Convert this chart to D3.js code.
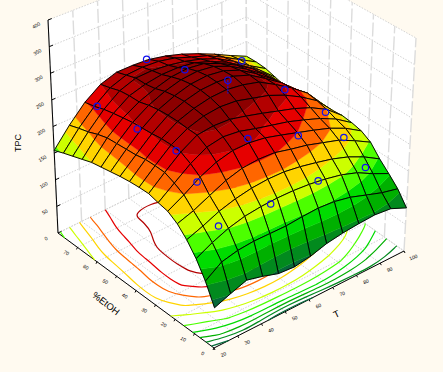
<!DOCTYPE html>
<html>
<head>
<meta charset="utf-8">
<script src="https://cdn.jsdelivr.net/npm/d3@7"></script>
<style>
  html, body { margin: 0; padding: 0; background: #fffaf0; overflow: hidden; }
  text { font-family: "Liberation Sans", Arial, sans-serif; fill: #000; }
</style>
</head>
<body>
<div class="chart"></div>
<script>
// tick labels
const tempTicks = [20, 30, 40, 50, 60, 70, 80, 90, 100];
const etohTicks = [70, 60, 50, 40, 30, 20, 10, 0];
const tpcTicks = [0, 50, 100, 150, 200, 250, 300, 350, 400];

// colour bands of the surface and the floor contours
const tpcLevels = [80, 100, 120, 140, 160, 180, 200, 220, 240, 260];
const bandColors = ["#06693a", "#028a1e", "#00b000", "#00dc00", "#4cff00", "#ccff00", "#ffd400", "#ff6600", "#e60000", "#b30000", "#8c0000"];

// TPC, one row per %EtOH step (80 -> 0), 13 temperatures (20 -> 100)
const tpcGrid = [
  [155, 189, 219, 240, 250, 250, 248, 241, 231, 218, 203, 186, 170],
  [162, 195, 223, 245, 256, 258, 256, 249, 237, 226, 209, 190, 171],
  [168, 200, 229, 251, 262, 263, 260, 254, 245, 232, 213, 190, 170],
  [174, 207, 233, 253, 262, 267, 267, 263, 252, 237, 216, 194, 165],
  [180, 212, 236, 253, 265, 274, 277, 273, 260, 243, 222, 195, 160],
  [183, 213, 239, 258, 271, 280, 283, 279, 266, 247, 224, 196, 161],
  [186, 214, 240, 261, 274, 283, 286, 282, 270, 250, 226, 197, 163],
  [189, 215, 241, 262, 275, 283, 285, 283, 272, 252, 230, 202, 167],
  [191, 218, 243, 262, 273, 280, 282, 278, 270, 252, 232, 208, 172],
  [192, 218, 243, 260, 270, 274, 272, 264, 256, 243, 226, 205, 172],
  [192, 217, 241, 259, 263, 262, 255, 247, 238, 229, 217, 200, 174],
  [187, 209, 231, 248, 254, 251, 243, 236, 229, 219, 208, 193, 172],
  [183, 199, 218, 232, 240, 241, 237, 229, 220, 211, 201, 187, 168],
  [172, 182, 196, 210, 219, 222, 221, 214, 208, 199, 190, 175, 158],
  [155, 166, 179, 188, 194, 197, 197, 193, 187, 180, 170, 156, 138],
  [133, 148, 160, 168, 172, 174, 174, 172, 168, 162, 152, 136, 122],
  [105, 125, 132, 135, 135, 135, 138, 140, 138, 132, 122, 112, 105],
  [70, 81, 91, 84, 75, 73, 78, 87, 92, 95, 97, 94, 81]
];

// measured points
const pointT = [59, 59.2, 59.2, 56, 55, 35, 32.8, 36, 34.5, 33.4, 98, 97, 97, 92.5, 93, 75.5, 70.5];
const pointEtOH = [80, 61.6, 40.8, 27.2, 14.4, 76, 53.6, 38.4, 26.4, 14.4, 80, 57.6, 37.6, 23.2, 12.8, 25.6, 9.6];
const pointTPC = [250, 275, 305, 235, 148, 218, 235, 225, 200, 152, 165, 168, 175, 172, 140, 205, 170];

const width = 443,
  height = 372;

let svg = d3
  .select(".chart")
  .append("svg")
  .attr("width", width)
  .attr("height", height)
  .style("display", "block");

// SCALES
// every axis maps to 0..1 inside the box, the box corners do the rest
let x = d3.scaleLinear().domain([20, 100]).range([0, 1]);
let y = d3.scaleLinear().domain([80, 0]).range([0, 1]);
let z = d3.scaleLinear().domain([0, 400]).range([0, 1]);

const gridT = d3.range(13).map((i) => 20 + (i * 80) / 12);
const gridE = d3.range(18).map((j) => 80 - (j * 80) / 17);

// box corners: left, front, right, back, floor and top
const floorBox = { l: [58, 233], f: [214, 348], r: [404, 251], b: [247, 140] };
const topBox = { l: [48, 20], f: [217, 118], r: [416, 38], b: [246, -57] };

function corner(box, a, b, k) {
  let near = box.l[k] * (1 - b) + box.f[k] * b;
  let far = box.b[k] * (1 - b) + box.r[k] * b;
  return near * (1 - a) + far * a;
}

function project(t, e, v) {
  let a = x(t),
    b = y(e),
    c = z(v);
  return [
    corner(floorBox, a, b, 0) * (1 - c) + corner(topBox, a, b, 0) * c,
    corner(floorBox, a, b, 1) * (1 - c) + corner(topBox, a, b, 1) * c
  ];
}

const line = d3.line();
const closed = d3.line().curve(d3.curveLinearClosed);
const smooth = d3.line().curve(d3.curveBasis);

// WALLS AND FLOOR
const T0 = 20,
  T1 = 100,
  E0 = 80,
  E1 = 0,
  Z0 = 0,
  Z1 = 400;

svg.append("path").attr("fill", "#fff").attr("d", closed([project(T0, E0, Z0), project(T1, E0, Z0), project(T1, E0, Z1), project(T0, E0, Z1)]));
svg.append("path").attr("fill", "#fff").attr("d", closed([project(T1, E0, Z0), project(T1, E1, Z0), project(T1, E1, Z1), project(T1, E0, Z1)]));
svg.append("path").attr("fill", "#fff").attr("d", closed([project(T0, E0, Z0), project(T0, E1, Z0), project(T1, E1, Z0), project(T1, E0, Z0)]));

const wallE = [80].concat(etohTicks);
const dotted = svg.append("g").attr("fill", "none").attr("stroke", "#d2d2d2").attr("stroke-dasharray", "1.5,1.5");
const solid = svg.append("g").attr("fill", "none").attr("stroke", "#dcdcdc").attr("stroke-width", 1.4).attr("stroke-dasharray", "14,3");

tpcTicks.forEach((v) => {
  dotted.append("path").attr("d", line([project(T0, E0, v), project(T1, E0, v), project(T1, E1, v)]));
});
tempTicks.forEach((t) => {
  solid.append("path").attr("d", line([project(t, E0, Z0), project(t, E0, Z1)]));
  dotted.append("path").attr("d", line([project(t, E0, Z0), project(t, E1, Z0)]));
});
wallE.forEach((e) => {
  solid.append("path").attr("d", line([project(T1, e, Z0), project(T1, e, Z1)]));
  dotted.append("path").attr("d", line([project(T0, e, Z0), project(T1, e, Z0)]));
});

// AXES
const axes = svg.append("g").attr("fill", "none").attr("stroke", "#000");
axes.append("path").attr("d", line([project(T0, E0, Z1), project(T0, E0, Z0), project(T0, E1, Z0), project(T1, E1, Z0)]));

tpcTicks.forEach((v) => {
  axes.append("path").attr("d", line([project(T0, E0, v), project(21.5, E0, v)]));
  svg
    .append("text")
    .attr("font-size", 5)
    .attr("text-anchor", "middle")
    .attr("transform", () => {
      let p = project(T0, E0, v);
      return "translate(" + (p[0] - 11) + "," + (p[1] + 7) + ") rotate(-30)";
    })
    .text(v);
});

tempTicks.forEach((t) => {
  let p = project(t, E1, Z0);
  axes.append("path").attr("d", line([p, [p[0] + 1, p[1] + 2]]));
  svg
    .append("text")
    .attr("font-size", 5)
    .attr("text-anchor", "middle")
    .attr("transform", "translate(" + (p[0] + 10) + "," + (p[1] + 8) + ") rotate(-20)")
    .text(t);
});

etohTicks.forEach((e) => {
  let p = project(T0, e, Z0);
  axes.append("path").attr("d", line([p, [p[0] - 1, p[1] + 2]]));
  svg
    .append("text")
    .attr("font-size", 5)
    .attr("text-anchor", "middle")
    .attr("transform", "translate(" + (p[0] - 12) + "," + (p[1] + 7) + ") rotate(30)")
    .text(e);
});

svg
  .append("text")
  .attr("font-size", 9)
  .attr("text-anchor", "middle")
  .attr("transform", "translate(21,143) rotate(-90)")
  .text("TPC");
svg
  .append("text")
  .attr("font-size", 9.5)
  .attr("text-anchor", "middle")
  .attr("transform", "translate(104,306) rotate(38)")
  .text("%EtOH");
svg
  .append("text")
  .attr("font-size", 9.5)
  .attr("text-anchor", "middle")
  .attr("transform", "translate(338,317) rotate(-25)")
  .text("T");

// FLOOR CONTOURS
const nx = gridT.length,
  ny = gridE.length;

let contours = d3.contours().size([nx, ny]).thresholds(tpcLevels)(tpcGrid.flat());

function onBorder(p, q) {
  return (
    (p[0] <= 0.5 && q[0] <= 0.5) ||
    (p[0] >= nx - 0.5 && q[0] >= nx - 0.5) ||
    (p[1] <= 0.5 && q[1] <= 0.5) ||
    (p[1] >= ny - 0.5 && q[1] >= ny - 0.5)
  );
}

function gridToFloor(p) {
  let i = Math.max(0, Math.min(nx - 1, p[0] - 0.5));
  let j = Math.max(0, Math.min(ny - 1, p[1] - 0.5));
  return project(20 + (i * 80) / 12, 80 - (j * 80) / 17, Z0);
}

// one smooth path per run of ring points, the part along the grid border is left out
function contourPath(geo) {
  let d = "";
  geo.coordinates.forEach((polygon) => {
    polygon.forEach((ring) => {
      let run = [];
      for (let k = 1; k < ring.length; k++) {
        if (onBorder(ring[k - 1], ring[k])) {
          if (run.length > 1) d += smooth(run);
          run = [];
          continue;
        }
        if (!run.length) run.push(gridToFloor(ring[k - 1]));
        run.push(gridToFloor(ring[k]));
      }
      if (run.length > 1) d += smooth(run);
    });
  });
  return d;
}

svg
  .append("g")
  .attr("fill", "none")
  .selectAll("path")
  .data(contours)
  .join("path")
  .attr("stroke", (d, i) => bandColors[i])
  .attr("stroke-width", 1.2)
  .attr("d", contourPath);

// SURFACE
// one quad per cell, far cells first so the near ones paint over them
function clip(poly, keep, level) {
  let out = [];
  poly.forEach((p, k) => {
    let q = poly[(k + 1) % poly.length];
    let pIn = keep(p.v),
      qIn = keep(q.v);
    if (pIn) out.push(p);
    if (pIn !== qIn) {
      let f = (level - p.v) / (q.v - p.v);
      out.push({ t: p.t + (q.t - p.t) * f, e: p.e + (q.e - p.e) * f, v: level });
    }
  });
  return out;
}

let cells = [];
for (let i = nx - 2; i >= 0; i--) {
  for (let j = 0; j < ny - 1; j++) {
    cells.push([
      { t: gridT[i], e: gridE[j], v: tpcGrid[j][i] },
      { t: gridT[i + 1], e: gridE[j], v: tpcGrid[j][i + 1] },
      { t: gridT[i + 1], e: gridE[j + 1], v: tpcGrid[j + 1][i + 1] },
      { t: gridT[i], e: gridE[j + 1], v: tpcGrid[j + 1][i] }
    ]);
  }
}

const toPixels = (poly) => poly.map((p) => project(p.t, p.e, p.v));
const edges = [-Infinity].concat(tpcLevels, [Infinity]);

let cellGroups = svg.append("g").selectAll("g").data(cells).join("g");

cellGroups.each(function (cell) {
  let g = d3.select(this);
  bandColors.forEach((color, k) => {
    let piece = clip(cell, (v) => v >= edges[k], edges[k]);
    if (piece.length) piece = clip(piece, (v) => v <= edges[k + 1], edges[k + 1]);
    if (piece.length < 3) return;
    g.append("path")
      .attr("fill", color)
      .attr("stroke", color)
      .attr("stroke-width", 0.4)
      .attr("d", closed(toPixels(piece)));
  });
  g.append("path")
    .attr("fill", "none")
    .attr("stroke", "#000")
    .attr("stroke-width", 0.95)
    .attr("d", closed(toPixels(cell)));
});

// POINTS
let points = svg.append("g").attr("fill", "none").attr("stroke", "#1010f0").attr("stroke-width", 1.2);

points
  .selectAll("circle")
  .data(pointT)
  .join("circle")
  .attr("cx", (d, i) => project(d, pointEtOH[i], pointTPC[i])[0])
  .attr("cy", (d, i) => project(d, pointEtOH[i], pointTPC[i])[1])
  .attr("r", 3.2);

// drop line of the one point standing clear of the surface
points
  .append("path")
  .attr("stroke-dasharray", "2,1")
  .attr("d", line([project(pointT[2], pointEtOH[2], pointTPC[2]), project(pointT[2], pointEtOH[2], 280)]));
</script>
</body>
</html>
